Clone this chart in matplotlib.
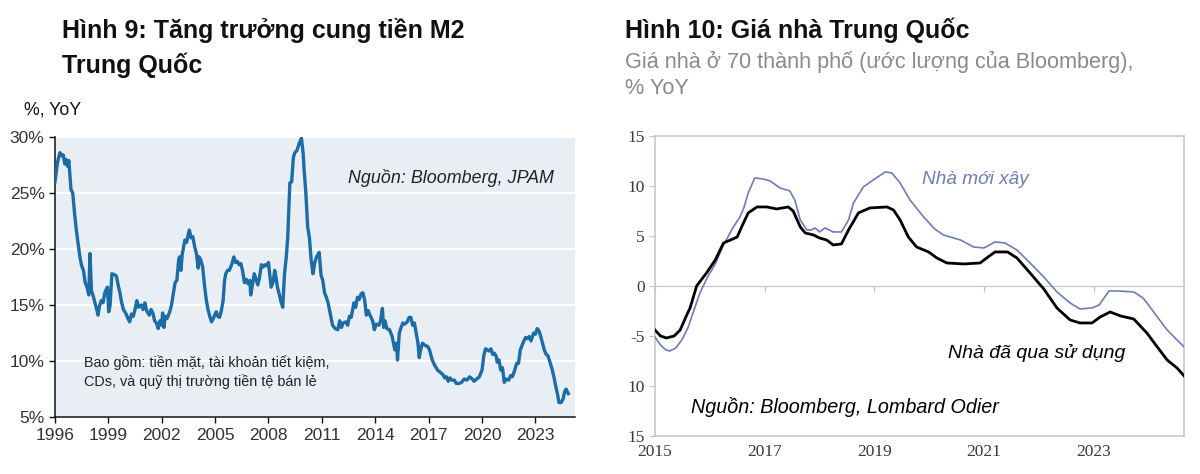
"""Two side-by-side panels: China M2 money supply growth and China house prices."""

import matplotlib.pyplot as plt

# ---------------------------------------------------------------------------
# Data
# ---------------------------------------------------------------------------
m2_years = [
    1996.00, 1996.15, 1996.28, 1996.40, 1996.47, 1996.55, 1996.62, 1996.70, 1996.78, 1996.90,
    1997.00, 1997.10, 1997.20, 1997.30, 1997.40, 1997.50, 1997.60, 1997.70, 1997.80, 1997.90,
    1997.97, 1998.05, 1998.15, 1998.25, 1998.35, 1998.42, 1998.50, 1998.60, 1998.70, 1998.80,
    1998.95, 1999.02, 1999.10, 1999.20, 1999.35, 1999.45, 1999.55, 1999.65, 1999.75, 1999.85,
    2000.00, 2000.10, 2000.20, 2000.30, 2000.40, 2000.50, 2000.60, 2000.70, 2000.85, 2000.95,
    2001.05, 2001.15, 2001.30, 2001.40, 2001.50, 2001.60, 2001.70, 2001.80, 2001.90, 2002.00,
    2002.05, 2002.12, 2002.20, 2002.30, 2002.45, 2002.55, 2002.65, 2002.75, 2002.85, 2002.95,
    2003.00, 2003.08, 2003.15, 2003.30, 2003.40, 2003.55, 2003.65, 2003.75, 2003.85, 2003.95,
    2004.05, 2004.10, 2004.20, 2004.30, 2004.40, 2004.50, 2004.60, 2004.70, 2004.80, 2004.90,
    2005.00, 2005.07, 2005.15, 2005.25, 2005.35, 2005.45, 2005.53, 2005.60, 2005.70, 2005.80,
    2005.95, 2006.05, 2006.15, 2006.25, 2006.35, 2006.45, 2006.55, 2006.65, 2006.75, 2006.85,
    2006.95, 2007.00, 2007.10, 2007.20, 2007.30, 2007.40, 2007.50, 2007.60, 2007.70, 2007.80,
    2007.90, 2008.00, 2008.05, 2008.15, 2008.25, 2008.35, 2008.45, 2008.50, 2008.60, 2008.70,
    2008.80, 2008.90, 2009.00, 2009.08, 2009.15, 2009.20, 2009.30, 2009.40, 2009.48, 2009.60,
    2009.70, 2009.85, 2009.95, 2010.00, 2010.10, 2010.20, 2010.30, 2010.40, 2010.50, 2010.60,
    2010.70, 2010.85, 2010.95, 2011.05, 2011.15, 2011.25, 2011.35, 2011.45, 2011.60, 2011.75,
    2011.90, 2012.00, 2012.10, 2012.20, 2012.35, 2012.45, 2012.55, 2012.65, 2012.80, 2012.90,
    2013.00, 2013.10, 2013.20, 2013.30, 2013.40, 2013.50, 2013.60, 2013.70, 2013.85, 2013.95,
    2014.05, 2014.20, 2014.30, 2014.40, 2014.47, 2014.55, 2014.65, 2014.80, 2014.95, 2015.10,
    2015.20, 2015.25, 2015.35, 2015.45, 2015.55, 2015.65, 2015.80, 2015.90, 2016.00, 2016.10,
    2016.20, 2016.30, 2016.40, 2016.47, 2016.55, 2016.65, 2016.80, 2016.95, 2017.05, 2017.20,
    2017.35, 2017.50, 2017.65, 2017.80, 2017.90, 2018.00, 2018.10, 2018.20, 2018.30, 2018.45,
    2018.55, 2018.70, 2018.85, 2019.00, 2019.15, 2019.30, 2019.45, 2019.55, 2019.70, 2019.85,
    2020.00, 2020.10, 2020.20, 2020.30, 2020.40, 2020.50, 2020.60, 2020.70, 2020.80, 2020.85,
    2020.95, 2021.05, 2021.15, 2021.25, 2021.35, 2021.50, 2021.60, 2021.70, 2021.80, 2021.95,
    2022.05, 2022.15, 2022.25, 2022.35, 2022.45, 2022.55, 2022.65, 2022.75, 2022.90, 2023.00,
    2023.10, 2023.20, 2023.30, 2023.40, 2023.50, 2023.60, 2023.70, 2023.80, 2023.95, 2024.05,
    2024.15, 2024.25, 2024.32, 2024.45, 2024.55, 2024.65, 2024.72, 2024.85,
]
m2_growth = [
    26.0, 27.8, 28.6, 28.3, 28.4, 27.6, 28.0, 27.4, 27.9, 25.3,
    25.0, 23.2, 21.7, 20.5, 19.3, 18.5, 18.1, 17.0, 16.6, 15.9,
    19.6, 16.3, 15.8, 15.2, 14.6, 14.1, 14.9, 15.4, 15.2, 16.1,
    16.6, 14.4, 15.0, 17.8, 17.7, 17.6, 16.8, 16.1, 15.2, 14.6,
    14.2, 13.8, 13.5, 14.2, 14.0, 14.6, 15.4, 14.8, 15.0, 14.6,
    15.2, 14.5, 14.1, 14.6, 14.3, 13.6, 13.4, 12.9, 13.6, 13.2,
    14.3, 13.0, 14.0, 13.8, 14.4, 15.0, 16.0, 17.0, 17.2, 19.0,
    19.3, 18.1, 19.5, 20.8, 20.6, 21.7, 21.0, 21.1, 20.2, 19.6,
    18.3, 19.3, 19.0, 18.4, 16.8, 15.5, 14.6, 14.0, 13.5, 13.8,
    14.2, 14.4, 14.0, 13.9, 14.5, 15.4, 17.2, 17.8, 18.1, 18.1,
    18.7, 19.3, 18.8, 18.9, 18.6, 18.7, 18.0, 17.0, 17.3, 16.9,
    17.2, 15.9, 16.8, 17.8, 17.3, 16.8, 17.5, 18.6, 18.4, 18.6,
    18.5, 18.8, 18.0, 16.6, 17.0, 18.1, 17.2, 16.6, 16.0, 15.3,
    14.8, 17.8, 19.3, 21.0, 24.0, 25.9, 26.0, 28.2, 28.6, 28.8,
    29.3, 29.9, 28.5, 27.1, 25.0, 22.0, 21.0, 19.0, 17.8, 18.8,
    19.3, 19.7, 17.7, 17.2, 16.1, 15.7, 15.2, 14.4, 13.2, 12.9,
    12.8, 13.6, 13.0, 13.4, 13.5, 13.2, 14.0, 13.9, 15.2, 14.8,
    15.7, 15.5, 16.0, 16.1, 15.5, 14.1, 14.5, 14.1, 13.6, 12.8,
    13.3, 13.2, 13.6, 14.7, 13.0, 13.6, 12.9, 12.8, 12.2, 11.0,
    11.6, 10.1, 12.5, 13.0, 13.4, 13.3, 13.5, 13.9, 13.9, 13.2,
    13.4, 12.5, 11.6, 10.3, 11.0, 11.6, 11.4, 11.3, 11.0, 10.1,
    9.6, 9.2, 9.0, 8.8, 8.5, 8.6, 8.2, 8.5, 8.3, 8.3,
    8.0, 8.0, 8.1, 8.4, 8.3, 8.6, 8.4, 8.2, 8.4, 8.6,
    9.2, 10.5, 11.1, 11.0, 10.9, 11.1, 10.6, 10.7, 10.4, 9.9,
    10.1, 9.2, 9.4, 8.1, 8.4, 8.3, 8.7, 8.6, 9.0, 9.8,
    9.8, 11.0, 11.4, 11.8, 12.1, 12.0, 12.2, 11.8, 12.5, 12.4,
    12.9, 12.7, 12.2, 11.6, 11.0, 10.6, 10.5, 10.0, 9.2, 8.5,
    7.7, 7.0, 6.3, 6.3, 6.6, 7.3, 7.5, 7.1,
]
m2_ticks = [1996, 1999, 2002, 2005, 2008, 2011, 2014, 2017, 2020, 2023]
m2_yticks = [5, 10, 15, 20, 25, 30]
m2_ytick_labels = ["5%", "10%", "15%", "20%", "25%", "30%"]

new_home_years = [
    2015.00, 2015.10, 2015.20, 2015.27, 2015.38, 2015.49, 2015.60, 2015.70, 2015.82, 2015.95,
    2016.10, 2016.25, 2016.43, 2016.55, 2016.62, 2016.70, 2016.82, 2016.97, 2017.10, 2017.28,
    2017.46, 2017.55, 2017.65, 2017.77, 2017.85, 2017.92, 2018.00, 2018.10, 2018.25, 2018.40,
    2018.53, 2018.62, 2018.80, 2018.98, 2019.20, 2019.32, 2019.47, 2019.65, 2019.90, 2020.10,
    2020.26, 2020.57, 2020.81, 2021.00, 2021.20, 2021.38, 2021.60, 2021.84, 2022.09, 2022.33,
    2022.57, 2022.75, 2022.97, 2023.10, 2023.28, 2023.45, 2023.73, 2023.90, 2024.00, 2024.16,
    2024.34, 2024.52, 2024.65,
]
new_home_prices = [
    -5.1, -5.9, -6.4, -6.5, -6.2, -5.4, -4.2, -2.6, -0.7, 0.8,
    2.2, 4.1, 5.9, 6.9, 7.8, 9.3, 10.8, 10.7, 10.5, 9.8,
    9.5, 8.6, 6.6, 5.6, 5.6, 5.8, 5.4, 5.8, 5.4, 5.4,
    6.6, 8.3, 9.9, 10.6, 11.4, 11.3, 10.3, 8.6, 6.9, 5.7,
    5.1, 4.6, 3.9, 3.8, 4.4, 4.3, 3.6, 2.3, 0.9, -0.6,
    -1.7, -2.3, -2.2, -1.9, -0.5, -0.5, -0.6, -1.2, -1.9, -3.1,
    -4.4, -5.4, -6.1,
]
used_home_years = [
    2015.00, 2015.10, 2015.21, 2015.35, 2015.46, 2015.58, 2015.64, 2015.76, 2015.94, 2016.10,
    2016.25, 2016.38, 2016.50, 2016.58, 2016.70, 2016.86, 2017.04, 2017.22, 2017.43, 2017.52,
    2017.65, 2017.74, 2017.89, 2018.00, 2018.13, 2018.25, 2018.40, 2018.53, 2018.71, 2018.92,
    2019.23, 2019.35, 2019.47, 2019.62, 2019.77, 2019.99, 2020.14, 2020.32, 2020.63, 2020.93,
    2021.05, 2021.20, 2021.43, 2021.60, 2021.84, 2022.09, 2022.33, 2022.57, 2022.75, 2022.97,
    2023.12, 2023.30, 2023.49, 2023.73, 2023.97, 2024.16, 2024.34, 2024.52, 2024.65,
]
used_home_prices = [
    -4.4, -5.0, -5.2, -5.0, -4.4, -2.9, -2.2, 0.0, 1.3, 2.6,
    4.3, 4.6, 4.9, 5.9, 7.3, 7.9, 7.9, 7.7, 7.9, 7.5,
    5.9, 5.3, 5.1, 4.8, 4.6, 4.1, 4.2, 5.6, 7.3, 7.8,
    7.9, 7.6, 6.6, 4.9, 3.9, 3.4, 2.8, 2.3, 2.2, 2.3,
    2.8, 3.4, 3.4, 2.8, 1.3, -0.3, -2.2, -3.4, -3.7, -3.7,
    -3.1, -2.6, -3.0, -3.3, -4.7, -6.1, -7.4, -8.2, -9.0,
]
house_ticks = [2015, 2017, 2019, 2021, 2023]
house_yticks = [15, 10, 5, 0, -5, -10, -15]
house_ytick_labels = ["15", "10", "5", "0", "-5", "10", "15"]

# ---------------------------------------------------------------------------
# Styling
# ---------------------------------------------------------------------------
SANS = ["Liberation Sans", "DejaVu Sans"]
SERIF = ["Liberation Serif", "DejaVu Serif"]
M2_BLUE = "#1c6ca5"
PANEL_BG = "#e8eef3"
NEW_BLUE = "#6d7db5"
FRAME_GRAY = "#c0c4cb"
TEXT_DARK = "#222222"
SUBTITLE_GRAY = "#8a8a8a"

plt.rcParams["font.family"] = SANS


def draw_m2_panel(fig):
    ax = fig.add_axes([0.0458, 0.120, 0.433, 0.591])
    ax.set_facecolor(PANEL_BG)
    ax.plot(m2_years, m2_growth, color=M2_BLUE, linewidth=2.4, zorder=3,
            solid_joinstyle="round")
    ax.set_xlim(1996, 2025.2)
    ax.set_ylim(5, 30)
    ax.set_xticks(m2_ticks)
    ax.set_xticklabels([str(t) for t in m2_ticks])
    ax.set_yticks(m2_yticks)
    ax.set_yticklabels(m2_ytick_labels)
    ax.grid(axis="y", color="white", linewidth=1.6, zorder=1)
    ax.set_axisbelow(True)
    for side in ("top", "right"):
        ax.spines[side].set_visible(False)
    for side in ("left", "bottom"):
        ax.spines[side].set_color("#111111")
        ax.spines[side].set_linewidth(1.1)
    ax.tick_params(axis="both", labelsize=12.5, colors="#111111", labelcolor="#333333",
                   length=4, width=1.0)
    ax.tick_params(axis="x", pad=4)

    ax.text(2012.45, 26.3, "Nguồn: Bloomberg, JPAM", fontsize=12.9, style="italic",
            color=TEXT_DARK, va="center")
    ax.text(0.055, 0.162, "Bao gồm: tiền mặt, tài khoản tiết kiệm,\n"
            "CDs, và quỹ thị trường tiền tệ bán lẻ", transform=ax.transAxes,
            fontsize=10.4, color=TEXT_DARK, va="center", linespacing=1.35)

    fig.text(0.052, 0.936, "Hình 9: Tăng trưởng cung tiền M2", fontsize=18,
             weight="bold", color="#111111", va="center")
    fig.text(0.052, 0.862, "Trung Quốc", fontsize=18, weight="bold",
             color="#111111", va="center")
    fig.text(0.020, 0.768, "%, YoY", fontsize=12.8, color="#111111", va="center")


def draw_house_panel(fig):
    ax = fig.add_axes([0.5458, 0.0802, 0.441, 0.633])
    ax.plot(new_home_years, new_home_prices, color=NEW_BLUE, linewidth=1.2, zorder=3)
    ax.plot(used_home_years, used_home_prices, color="#000000", linewidth=2.0, zorder=4)
    ax.set_xlim(2015, 2024.65)
    ax.set_ylim(-15, 15)
    ax.set_yticks(house_yticks)
    ax.set_yticklabels(house_ytick_labels, family=SERIF, fontsize=12.5, color="#3a3a3a")
    ax.tick_params(axis="y", length=4, color=FRAME_GRAY)

    # Ticks hang from the zero line; the year labels sit at the frame bottom.
    ax.spines["bottom"].set_position(("data", 0))
    ax.spines["bottom"].set_color(FRAME_GRAY)
    ax.set_xticks(house_ticks)
    ax.tick_params(axis="x", length=4, color=FRAME_GRAY, labelbottom=False)
    for side in ("top", "left", "right"):
        ax.spines[side].set_color(FRAME_GRAY)
        ax.spines[side].set_linewidth(1.1)

    bottom = ax.secondary_xaxis("bottom")
    bottom.set_xticks(house_ticks)
    bottom.set_xticklabels([str(t) for t in house_ticks], family=SERIF,
                           fontsize=12.5, color="#3a3a3a")
    bottom.tick_params(length=0, pad=6)
    bottom.spines["bottom"].set_color(FRAME_GRAY)
    bottom.spines["bottom"].set_linewidth(1.1)

    ax.text(2019.87, 10.6, "Nhà mới xây", fontsize=13.7, style="italic",
            color=NEW_BLUE, va="center")
    ax.text(2020.35, -6.7, "Nhà đã qua sử dụng", fontsize=14, style="italic",
            color="#000000", va="center")
    ax.text(2015.65, -12.1, "Nguồn: Bloomberg, Lombard Odier", fontsize=14.2,
            style="italic", color="#000000", va="center")

    fig.text(0.521, 0.936, "Hình 10: Giá nhà Trung Quốc", fontsize=18,
             weight="bold", color="#111111", va="center")
    fig.text(0.521, 0.869, "Giá nhà ở 70 thành phố (ước lượng của Bloomberg),",
             fontsize=15.6, color=SUBTITLE_GRAY, va="center")
    fig.text(0.521, 0.814, "% YoY", fontsize=15.6, color=SUBTITLE_GRAY, va="center")


def main():
    fig = plt.figure(figsize=(12, 4.74), dpi=100)
    draw_m2_panel(fig)
    draw_house_panel(fig)
    fig.savefig("out.png", dpi=100, facecolor="white")
    plt.close(fig)


if __name__ == "__main__":
    main()
